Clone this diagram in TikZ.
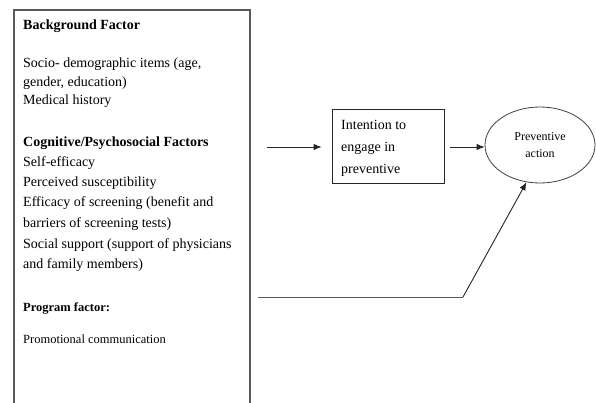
\documentclass[tikz,border=0pt]{standalone}
\usepackage{fontspec}
\setmainfont{Liberation Serif}
\usetikzlibrary{shapes.geometric,arrows.meta}
\begin{document}
\begin{tikzpicture}[x=1pt,y=-1pt,
  txt/.style={anchor=base west,inner sep=0pt,font=\fontsize{14}{16}\selectfont},
  btxt/.style={txt,font=\fontsize{14}{16}\selectfont\bfseries},
  stxt/.style={txt,font=\fontsize{12.5}{14}\selectfont},
  sbtxt/.style={txt,font=\fontsize{12.5}{14}\selectfont\bfseries},
  grayline/.style={draw=black!65,line width=1.1pt},
  arr/.style={draw=black!85,line width=0.9pt,-{Latex[length=8pt,width=6.5pt]}}]
\useasboundingbox[fill=white] (0,0) rectangle (596,403);
% left box (bottom lies beyond the picture)
\node[grayline,rectangle,minimum width=236pt,minimum height=410pt,inner sep=0pt] (factors) at (132,215) {};
\node[btxt] (bg) at (23,30) {Background Factor};
\node[txt] (s1) at (23,68) {Socio- demographic items (age,};
\node[txt] (s2) at (23,87) {gender, education)};
\node[txt] (s3) at (23,105) {Medical history};
\node[btxt] (cg) at (23,147) {Cognitive/Psychosocial Factors};
\node[txt] (c1) at (23,167) {Self-efficacy};
\node[txt] (c2) at (23,187) {Perceived susceptibility};
\node[txt] (c3) at (23,207) {Efficacy of screening (benefit and};
\node[txt] (c4) at (23,227) {barriers of screening tests)};
\node[txt] (c5) at (23,248) {Social support (support of physicians};
\node[txt] (c6) at (23,268) {and family members)};
\node[sbtxt] (pg) at (23,311) {Program factor:};
\node[stxt] (p1) at (23,343) {Promotional communication};
% intention box
\node[draw=black!85,line width=0.8pt,rectangle,minimum width=112pt,minimum height=74pt,inner sep=0pt] (intent) at (388,146) {};
\node[txt] (i1) at (341,130) {Intention to};
\node[txt] (i2) at (341,152) {engage in};
\node[txt] (i3) at (341,174) {preventive};
% preventive action ellipse
\node[draw=black!75,line width=0.8pt,ellipse,minimum width=110pt,minimum height=76pt,inner sep=0pt,align=center,font=\fontsize{12}{17}\selectfont] (action) at (540,145) {Preventive\\action};
% connectors
\coordinate (a1) at (267,147);
\coordinate (b1) at (258,297);
\coordinate (b2) at (463,297);
\draw[arr,shorten >=10pt] (a1) -- (intent.west |- a1);
\draw[arr,shorten <=6pt] (intent.east |- a1) -- (action.west |- a1);
\draw[grayline,line width=0.9pt] (b1) -- (b2);
\draw[arr] (b2) -- (action.250);
\end{tikzpicture}
\end{document}
